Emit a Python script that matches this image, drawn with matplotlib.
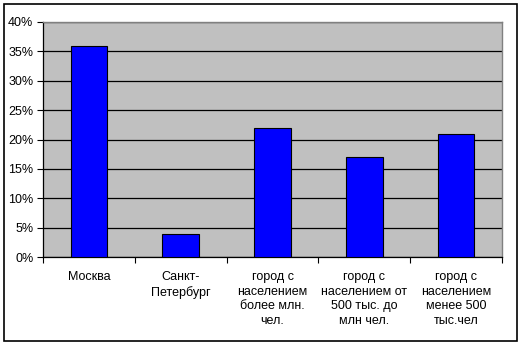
import matplotlib.pyplot as plt
from matplotlib.patches import Rectangle
from matplotlib.ticker import FuncFormatter

# Data
categories = [
    "Москва",
    "Санкт-\nПетербург",
    "город с\nнаселением\nболее млн.\nчел.",
    "город с\nнаселением от\n500 тыс. до\nмлн чел.",
    "город с\nнаселением\nменее 500\nтыс.чел",
]
shares = [36, 4, 22, 17, 21]
y_ticks = [0, 5, 10, 15, 20, 25, 30, 35, 40]

plt.rcParams["font.family"] = ["Liberation Sans", "DejaVu Sans"]
plt.rcParams["font.size"] = 9

# Prepare Figure
fig = plt.figure(figsize=(5.23, 3.46), dpi=100)
ax = fig.add_axes([43 / 523, 89 / 346, 459 / 523, 235 / 346])
ax.set_facecolor("#C0C0C0")

# Frame round the whole chart
fig.patches.append(Rectangle((4 / 523, 5 / 346), 513 / 523, 337 / 346,
                             transform=fig.transFigure, fill=False,
                             edgecolor="black", linewidth=1.2))

# Bars
x = list(range(len(categories)))
ax.bar(x, shares, width=0.4, color="#0000FF", edgecolor="black",
       linewidth=0.8, zorder=3)

# Axes
ax.set_xlim(-0.5, len(categories) - 0.5)
ax.set_ylim(0, 40)
ax.set_yticks(y_ticks)
ax.yaxis.set_major_formatter(FuncFormatter(lambda v, _: f"{v:.0f}%"))
ax.yaxis.grid(True, color="black", linewidth=0.9, zorder=1)
ax.set_axisbelow(True)

ax.set_xticks([i - 0.5 for i in range(len(categories) + 1)])
ax.set_xticklabels([])
ax.set_xticks(x, minor=True)
ax.set_xticklabels(categories, minor=True, linespacing=1.3)
ax.tick_params(axis="x", which="major", length=4, width=0.8, color="black")
ax.tick_params(axis="x", which="minor", length=0, pad=10)
ax.tick_params(axis="y", length=4, width=0.8, pad=3)
for lbl in ax.get_xticklabels(minor=True):
    lbl.set_verticalalignment("top")

for side in ("left", "bottom"):
    ax.spines[side].set_color("black")
    ax.spines[side].set_linewidth(0.9)
for side in ("top", "right"):
    ax.spines[side].set_color("#808080")
    ax.spines[side].set_linewidth(1.0)

# Save Figure
fig.savefig("out.png", dpi=100)
